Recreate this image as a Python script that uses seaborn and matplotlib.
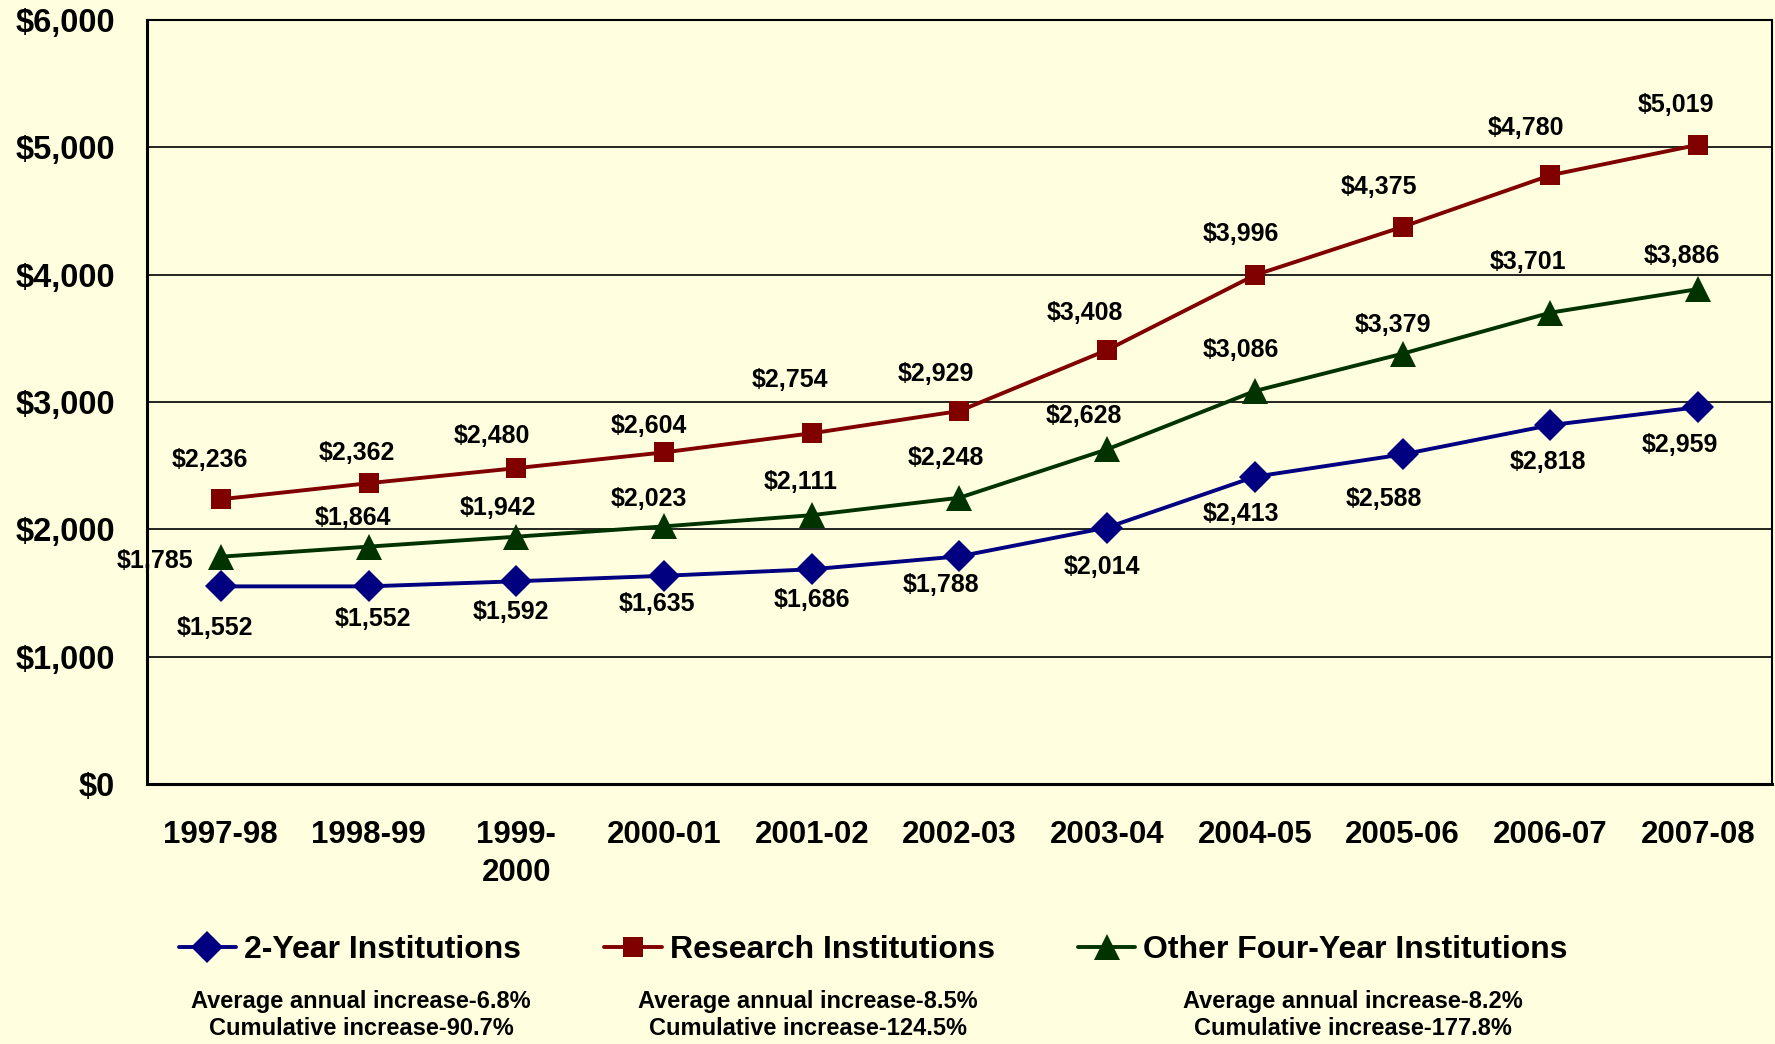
import matplotlib
matplotlib.use("Agg")
import matplotlib.pyplot as plt
import seaborn as sns
import pandas as pd
from matplotlib.ticker import FixedLocator
from matplotlib.lines import Line2D

years = ["1997-98", "1998-99", "1999-\n2000", "2000-01", "2001-02", "2002-03",
         "2003-04", "2004-05", "2005-06", "2006-07", "2007-08"]
two_year = [1552, 1552, 1592, 1635, 1686, 1788, 2014, 2413, 2588, 2818, 2959]
research = [2236, 2362, 2480, 2604, 2754, 2929, 3408, 3996, 4375, 4780, 5019]
other_four = [1785, 1864, 1942, 2023, 2111, 2248, 2628, 3086, 3379, 3701, 3886]
series_names = ["2-Year Institutions", "Research Institutions", "Other Four-Year Institutions"]
stats = ["Average annual increase-6.8%\nCumulative increase-90.7%",
         "Average annual increase-8.5%\nCumulative increase-124.5%",
         "Average annual increase-8.2%\nCumulative increase-177.8%"]
yticks = [0, 1000, 2000, 3000, 4000, 5000, 6000]

# label offsets (screen px, +y downward) for each series, styling only
label_offsets = [
    [(-5, 37), (4, 29), (-5, 27), (-6, 25), (0, 27), (-16, 25), (-5, 35), (-12, 33), (-17, 39), (-2, 33), (-16, 33)],
    [(-10, -35), (-10, -27), (-22, -28), (-13, -23), (-19, -47), (-21, -33), (-20, -33), (-12, -36), (-21, -35), (-22, -42), (-20, -35)],
    [(-58, 4), (-14, -25), (-16, -25), (-13, -24), (-10, -29), (-12, -35), (-21, -29), (-12, -36), (-9, -25), (-20, -45), (-14, -29)],
]

colors = ["#000080", "#800000", "#003300"]
markers = ["D", "s", "^"]
marker_sizes = [16, 15, 19]
bg = "#FFFFE0"

df = pd.concat([
    pd.DataFrame({"Year": years, "Cost": vals, "Series": name})
    for name, vals in zip(series_names, [two_year, research, other_four])
], ignore_index=True)

sns.set_style("white")
plt.rcParams["font.family"] = ["Liberation Sans", "DejaVu Sans"]
plt.rcParams["font.weight"] = "bold"
plt.rcParams["text.color"] = "black"
plt.rcParams["xtick.color"] = "black"
plt.rcParams["ytick.color"] = "black"
plt.rcParams["axes.labelcolor"] = "black"

fig = plt.figure(figsize=(17.75, 10.44), dpi=100, facecolor=bg)
ax = fig.add_axes([0.0828, 0.249, 0.9155, 0.732])
ax.set_facecolor(bg)

sns.lineplot(data=df, x="Year", y="Cost", hue="Series", style="Series",
             palette=dict(zip(series_names, colors)),
             markers=dict(zip(series_names, markers)),
             dashes=False, sort=False, linewidth=2.8, markersize=16,
             markeredgewidth=0, ax=ax, legend=False)
for line in ax.lines:
    c = matplotlib.colors.to_hex(line.get_color())
    if c in colors:
        line.set_markersize(marker_sizes[colors.index(c)])

k = 0.815
for s, vals in enumerate([two_year, research, other_four]):
    for i, v in enumerate(vals):
        dx, dy = label_offsets[s][i]
        ax.annotate(f"${v:,}", (i, v), xytext=(dx * k, -dy * k), textcoords="offset points",
                    ha="center", va="center", fontsize=18, fontweight="bold", color="black")

ax.set_xlim(-0.5, len(years) - 0.5)
ax.set_ylim(0, 6000)
ax.set_yticks(yticks)
ax.set_yticklabels([f"${t:,}" for t in yticks], fontsize=23.5, fontweight="bold")
ax.yaxis.grid(True, color="black", linewidth=1.2)
ax.set_axisbelow(True)
ax.set_xticks(range(len(years)))
ax.set_xticklabels(years, fontsize=22.5, fontweight="bold", linespacing=1.35, va="top")
ax.xaxis.set_minor_locator(FixedLocator([i - 0.5 for i in range(len(years) + 1)]))
ax.tick_params(axis="x", which="major", length=0, pad=26)
ax.tick_params(axis="x", which="minor", length=10, width=2, direction="out", color="black")
ax.tick_params(axis="y", which="major", length=10, width=1.5, direction="out", color="black", pad=13)
ax.set_xlabel("")
ax.set_ylabel("")
for side in ["left", "bottom"]:
    ax.spines[side].set_linewidth(2.2)
    ax.spines[side].set_color("black")
for side in ["top", "right"]:
    ax.spines[side].set_linewidth(1.5)
    ax.spines[side].set_color("black")
    ax.spines[side].set_visible(True)

handles = [Line2D([0], [0], color=c, marker=m, markersize=ms, markeredgewidth=0, linewidth=2.8)
           for c, m, ms in zip(colors, markers, marker_sizes)]
fig.legend(handles, series_names, loc="center", bbox_to_anchor=(0.492, 0.090), ncol=3,
           frameon=False, prop={"size": 23, "weight": "bold"}, handlelength=1.8,
           handletextpad=0.25, columnspacing=2.6)

for xc, txt in zip([0.2035, 0.455, 0.762], stats):
    fig.text(xc, 0.028, txt, ha="center", va="center", fontsize=17, fontweight="bold",
             linespacing=1.25)

fig.savefig("out.png", dpi=100, facecolor=bg)
